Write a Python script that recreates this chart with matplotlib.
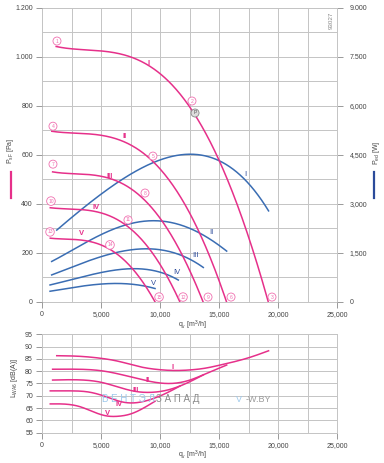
import numpy as np
import matplotlib.pyplot as plt
from matplotlib.lines import Line2D
from matplotlib.ticker import FixedLocator, MultipleLocator

plt.rcParams['font.family'] = ['Liberation Sans', 'DejaVu Sans']
plt.rcParams['mathtext.fontset'] = 'custom'
plt.rcParams['mathtext.rm'] = 'Liberation Sans'

PINK = '#e6308a'
PINK_LT = '#f070b0'
BLUE = '#3a6db3'
BLUE_DK = '#2b4a9a'
GRID = '#c4c4c4'
TXT = '#444444'

# pressure curves P_sF [Pa] vs q_v [m3/h]
q_p1 = [1200, 2500, 4000, 5500, 7500, 9000, 10000, 11200, 12400, 13500, 14700, 15800, 16800, 18000, 19200]
p_1 = [1040, 1037, 1030, 1020, 1000, 965, 930, 875, 805, 720, 620, 490, 355, 185, 0]
q_p2 = [830, 2000, 3300, 4500, 6100, 7300, 8150, 9100, 10100, 11000, 12000, 12900, 13700, 14700, 15650]
p_2 = [695, 693, 688, 682, 669, 645, 621, 585, 538, 481, 414, 327, 237, 124, 0]
q_p3 = [900, 1800, 2850, 3900, 5300, 6400, 7100, 8000, 8850, 9600, 10450, 11250, 11950, 12800, 13670]
p_3 = [529, 527, 524, 519, 509, 491, 473, 445, 409, 366, 315, 249, 180, 94, 0]
q_p4 = [700, 1500, 2450, 3350, 4550, 5500, 6100, 6800, 7550, 8250, 8950, 9650, 10250, 10950, 11700]
p_4 = [383, 382, 379, 376, 368, 355, 342, 322, 296, 265, 228, 180, 131, 68, 0]
q_p5 = [700, 1250, 2000, 2750, 3750, 4500, 5000, 5600, 6200, 6750, 7350, 7900, 8400, 9000, 9580]
p_5 = [259, 258, 256, 254, 249, 240, 232, 218, 200, 179, 154, 122, 88, 46, 0]

# power curves P_ed [W]
q_w1 = [1250, 4000, 6300, 8300, 10000, 12500, 15400, 17400, 19200]
w_1 = [2200, 3000, 3630, 4090, 4340, 4525, 4190, 3730, 2760]
q_w2 = [820, 2500, 4070, 6890, 8300, 10000, 12540, 14240, 15650]
w_2 = [1226, 1580, 1890, 2298, 2451, 2503, 2249, 1890, 1563]
q_w3 = [820, 2500, 4070, 6000, 7460, 8900, 10000, 11980, 13670]
w_3 = [818, 1060, 1278, 1460, 1584, 1636, 1600, 1379, 1054]
q_w4 = [680, 2500, 4070, 6000, 7600, 9000, 10000, 11550]
w_4 = [512, 680, 818, 950, 1025, 975, 905, 665]
q_w5 = [680, 2500, 4070, 6000, 7500, 8870, 9580]
w_5 = [320, 430, 505, 560, 540, 465, 405]

# sound power L_WA6 [dB(A)]
q_l1 = [1250, 3000, 4900, 6500, 8300, 10000, 11100, 12500, 13800, 15100, 17600, 19200]
l_1 = [86.3, 86.1, 85.3, 84.0, 81.8, 80.6, 80.3, 80.5, 81.2, 82.5, 85.6, 88.3]
q_l2 = [900, 3000, 5000, 7000, 9000, 10800, 12400, 14000, 15650]
l_2 = [80.8, 80.8, 80.2, 78.3, 76.0, 75.0, 76.2, 79.2, 82.5]
q_l3 = [900, 3000, 5000, 6500, 7900, 9200, 10600, 12200, 13670]
l_3 = [76.4, 76.5, 75.5, 73.5, 71.8, 71.4, 72.3, 75.0, 78.5]
q_l4 = [700, 2500, 4000, 5500, 6900, 8000, 9200, 10500, 11700]
l_4 = [72.0, 72.0, 71.5, 69.5, 67.4, 67.2, 68.5, 71.0, 74.0]
q_l5 = [700, 3200, 4500, 5500, 6500, 7500, 8600, 9580]
l_5 = [66.7, 65.6, 63.2, 61.8, 61.7, 62.6, 65.0, 67.8]

names = ['I', 'II', 'III', 'IV', 'V']


def smooth(x, y, n=300):
    # natural cubic spline through the read points
    x = np.asarray(x, float)
    y = np.asarray(y, float)
    k = len(x)
    h = np.diff(x)
    A = np.zeros((k, k))
    b = np.zeros(k)
    A[0, 0] = A[-1, -1] = 1
    for i in range(1, k - 1):
        A[i, i - 1] = h[i - 1]
        A[i, i] = 2 * (h[i - 1] + h[i])
        A[i, i + 1] = h[i]
        b[i] = 6 * ((y[i + 1] - y[i]) / h[i] - (y[i] - y[i - 1]) / h[i - 1])
    m = np.linalg.solve(A, b)
    xs = np.linspace(x[0], x[-1], n)
    j = np.clip(np.searchsorted(x, xs) - 1, 0, k - 2)
    t = xs - x[j]
    hj = h[j]
    a = (y[j + 1] - y[j]) / hj - hj * (2 * m[j] + m[j + 1]) / 6
    ys = y[j] + a * t + m[j] / 2 * t ** 2 + (m[j + 1] - m[j]) / (6 * hj) * t ** 3
    return xs, ys


def fitline(x, y, deg=4, n=300):
    # least-squares polynomial, evens out reading noise on the fan curves
    x = np.asarray(x, float)
    c = np.polyfit(x / x[-1], y, deg)
    xs = np.linspace(x[0], x[-1], n)
    return xs, np.polyval(c, xs / x[-1])


def px(x, y):
    return x / 384, 1 - y / 463


def circ(ax, x, y, s, fc='white', ec=PINK_LT, tc=PINK_LT):
    ax.text(x, y, s, fontsize=3.6, color=tc, ha='center', va='center', zorder=6,
            bbox=dict(boxstyle='circle,pad=0.3', fc=fc, ec=ec, lw=0.6))


fig = plt.figure(figsize=(3.84, 4.63), dpi=100)
rect_top = [42 / 384, 1 - 301.7 / 463, 295 / 384, 293.7 / 463]
rect_bot = [42 / 384, 1 - 432.7 / 463, 295 / 384, 98.4 / 463]

# lower layer: power axis + grid
axw = fig.add_axes(rect_top, zorder=1)
axw.set_xlim(0, 25000)
axw.set_ylim(0, 9000)
axw.yaxis.tick_right()
axw.yaxis.set_major_locator(FixedLocator([0, 1500, 3000, 4500, 6000, 7500, 9000]))
axw.set_yticklabels(['0', '1,500', '3,000', '4,500', '6,000', '7.500', '9.000'])
axw.yaxis.set_minor_locator(MultipleLocator(750))
axw.xaxis.set_major_locator(MultipleLocator(2500))
axw.tick_params(axis='x', length=0, labelbottom=False)
axw.tick_params(axis='y', which='major', length=4, width=0.7, color='#999999',
                labelsize=5, labelcolor=TXT, pad=5)
axw.tick_params(axis='y', which='minor', length=0)
axw.grid(True, which='both', color=GRID, lw=0.7)
axw.set_axisbelow(True)
for sp in axw.spines.values():
    sp.set_color(GRID)
    sp.set_linewidth(0.7)

for q, w in zip([q_w1, q_w2, q_w3, q_w4, q_w5], [w_1, w_2, w_3, w_4, w_5]):
    xs, ys = fitline(q, w)
    axw.plot(xs, ys, color=BLUE, lw=1.1)

# upper layer: pressure axis
ax = fig.add_axes(rect_top, zorder=2)
ax.patch.set_visible(False)
ax.set_xlim(0, 25000)
ax.set_ylim(0, 1200)
ax.yaxis.set_major_locator(FixedLocator([0, 200, 400, 600, 800, 1000, 1200]))
ax.set_yticklabels(['0', '200', '400', '600', '800', '1.000', '1.200'])
ax.xaxis.set_major_locator(FixedLocator([0, 5000, 10000, 15000, 20000, 25000]))
ax.set_xticklabels(['0', '5,000', '10,000', '15,000', '20,000', '25,000'])
ax.tick_params(length=4, width=0.7, color='#999999', labelsize=5, labelcolor=TXT, pad=2.5)
for sp in ax.spines.values():
    sp.set_visible(False)

for q, p in zip([q_p1, q_p2, q_p3, q_p4, q_p5], [p_1, p_2, p_3, p_4, p_5]):
    xs, ys = fitline(q, p)
    ax.plot(xs, ys, color=PINK, lw=1.1)

# curve markers
circ_pts = [(1270, 1065, '1'), (12710, 820, '2'), (19490, 19, '3'),
            (930, 717, '4'), (9400, 595, '5'), (16020, 19, '6'),
            (930, 562, '7'), (8730, 444, '8'), (14070, 19, '9'),
            (760, 411, '10'), (7290, 334, '11'), (11950, 19, '12'),
            (680, 285, '13'), (5760, 232, '14'), (9920, 19, '15')]
for x, y, s in circ_pts:
    circ(ax, x, y, s)
circ(ax, 12970, 771, 'P', fc='#dddddd', ec='#888888', tc='#555555')

pink_lab = [(9070, 975), (7030, 677), (5760, 513), (4580, 383), (3390, 277)]
for (x, y), s in zip(pink_lab, names):
    ax.text(x, y, s, fontsize=5.5, fontweight='bold', color=PINK, ha='center', va='center')
blue_lab = [(17200, 518), (14320, 281), (12970, 187), (11440, 121), (9410, 76)]
for (x, y), s in zip(blue_lab, names):
    ax.text(x, y, s, fontsize=5.5, color=BLUE_DK, ha='center', va='center')

ax.text(24550, 1150, '93027', fontsize=4.5, color='#888888', rotation=90,
        ha='center', va='center')

# sound power plot
axl = fig.add_axes(rect_bot)
axl.set_xlim(0, 25000)
axl.set_ylim(55, 95)
axl.yaxis.set_major_locator(MultipleLocator(5))
axl.xaxis.set_major_locator(FixedLocator([0, 5000, 10000, 15000, 20000, 25000]))
axl.set_xticklabels(['0', '5,000', '10,000', '15,000', '20,000', '25,000'])
axl.xaxis.set_minor_locator(MultipleLocator(2500))
axl.tick_params(which='major', length=4, width=0.7, color='#999999', labelsize=5,
                labelcolor=TXT, pad=2.5)
axl.tick_params(which='minor', length=0)
axl.grid(True, which='both', color=GRID, lw=0.7)
axl.set_axisbelow(True)
for sp in axl.spines.values():
    sp.set_color(GRID)
    sp.set_linewidth(0.7)

for q, l in zip([q_l1, q_l2, q_l3, q_l4, q_l5], [l_1, l_2, l_3, l_4, l_5]):
    xs, ys = smooth(q, l)
    axl.plot(xs, ys, color=PINK, lw=1.1)

low_lab = [(11100, 81.6), (8980, 76.2), (7970, 72.0), (6500, 66.3), (5590, 63.0)]
for (x, y), s in zip(low_lab, names):
    axl.text(x, y, s, fontsize=5.5, fontweight='bold', color=PINK, ha='center', va='center',
             zorder=4)

# watermark
axl.text(5085, 68.6, 'В Е Н Т Э Л', fontsize=7, color='#9cc8ec', ha='left', va='center',
         zorder=3)
axl.text(9660, 68.6, 'З А П А Д', fontsize=7, color='#8a8a8a', ha='left', va='center',
         zorder=3)
axl.text(16400, 68.6, 'V', fontsize=6.5, color='#9cc8ec', ha='left', va='center')
axl.text(17250, 68.6, '-W.BY', fontsize=6.5, color='#9a9a9a', ha='left', va='center')

# axis titles
fig.text(*px(10, 151), r'$\mathrm{P_{sF}}$ [Pa]', fontsize=5, color=TXT, rotation=90,
         ha='center', va='center')
fig.add_artist(Line2D([11 / 384] * 2, [1 - 172 / 463, 1 - 198 / 463], color=PINK, lw=1.6))
fig.text(*px(376, 153), r'$\mathrm{P_{ed}}$ [W]', fontsize=5, color=TXT, rotation=90,
         ha='center', va='center')
fig.add_artist(Line2D([374 / 384] * 2, [1 - 172 / 463, 1 - 198 / 463], color=BLUE_DK, lw=1.6))
fig.text(*px(15, 378), r'$\mathrm{L_{WA6}}$ [dB(A)]', fontsize=5, color=TXT, rotation=90,
         ha='center', va='center')
fig.text(*px(192, 325), r'$\mathrm{q_v}$ [m$^3$/h]', fontsize=5, color=TXT,
         ha='center', va='center')
fig.text(*px(192, 455), r'$\mathrm{q_v}$ [m$^3$/h]', fontsize=5, color=TXT,
         ha='center', va='center')

fig.savefig('out.png', dpi=100)
